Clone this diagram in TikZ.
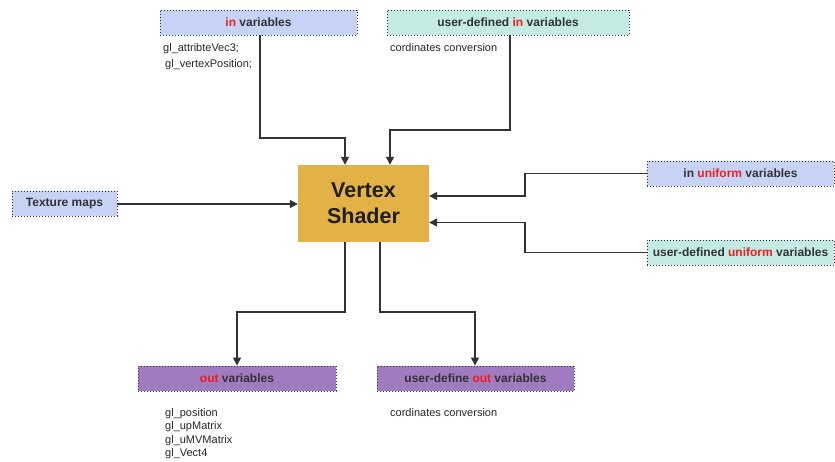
\documentclass[tikz,border=0pt]{standalone}
\usepackage{fontspec}
\setmainfont{Liberation Sans}
\usetikzlibrary{arrows.meta}
\definecolor{inblue}{HTML}{C6D3F5}
\definecolor{userteal}{HTML}{C4EAE4}
\definecolor{outpurple}{HTML}{A07BBF}
\definecolor{shadergold}{HTML}{E3B246}
\definecolor{keyred}{HTML}{F01E1E}
\definecolor{labelgray}{HTML}{333333}
\definecolor{rimblue}{HTML}{2E3450}
\newcommand{\kw}[1]{\textcolor{keyred}{#1}}
\tikzset{
  varbox/.style={draw=rimblue, line width=0.9pt, dash pattern=on 1pt off 2pt,
    minimum height=25pt, inner sep=0pt, font=\fontsize{12}{14}\selectfont\bfseries,
    text=labelgray},
  note/.style={anchor=north west, inner sep=0pt, align=left,
    font=\fontsize{11}{13.5}\selectfont, text=black!85},
  link/.style={draw=black!80, line width=1.4pt, -{Triangle[length=8pt,width=8pt]}},
}
\begin{document}
\begin{tikzpicture}[x=1pt,y=-1pt]
\useasboundingbox (0,0) rectangle (835,462);

% processing stage
\node[fill=shadergold, minimum width=131pt, minimum height=77pt, inner sep=0pt,
  align=center, font=\fontsize{21.5}{26}\selectfont\bfseries, text=black!88]
  (shader) at (363.5,203.5) {Vertex\\Shader};

% inputs
\node[varbox, fill=inblue, minimum width=197pt] (inv) at (258.5,22.5) {\kw{in} variables};
\node[varbox, fill=userteal, minimum width=242pt] (uin) at (508,22.5) {user-defined \kw{in} variables};
\node[varbox, fill=inblue, minimum width=105pt] (tex) at (64.5,204) {Texture maps};
\node[varbox, fill=inblue, minimum width=187pt] (unif) at (740.5,173.5) {in \kw{uniform} variables};
\node[varbox, fill=userteal, minimum width=187pt] (uunif) at (740.5,252.5) {user-defined \kw{uniform} variables};

% outputs
\node[varbox, fill=outpurple, minimum width=198pt] (outv) at (237,378.5) {\kw{out} variables};
\node[varbox, fill=outpurple, minimum width=197pt] (uout) at (475.5,378.5) {user-define \kw{out} variables};

% notes
\node[note] (n1) at (163,43.5) {gl\_attribteVec3;};
\node[note] (n2) at (165,59.5) {gl\_vertexPosition;};
\node[note] (n3) at (390,43.5) {cordinates conversion};
\node[note] (n4) at (165,408) {gl\_position\\gl\_upMatrix\\gl\_uMVMatrix\\gl\_Vect4};
\node[note] (n5) at (390,408) {cordinates conversion};

% connectors
\coordinate (shtopl) at (345,0);
\coordinate (shtopr) at (390,0);
\draw[link] (inv.south -| 260,0) |- (345,138) -- (shader.north -| shtopl);
\draw[link] (uin.south -| 510,0) |- (390,130) -- (shader.north -| shtopr);
\draw[link] (tex.east) -- (tex.east -| shader.west);
\draw[link] (unif.west) -| (525,196) -- (shader.east |- 0,196);
\draw[link] (uunif.west) -| (525,222.5) -- (shader.east |- 0,222.5);
\draw[link] (shader.south -| shtopl) |- (237,312) -- (outv.north);
\draw[link] (shader.south -| 380,0) |- (475,312) -- (uout.north -| 475,0);
\end{tikzpicture}
\end{document}
